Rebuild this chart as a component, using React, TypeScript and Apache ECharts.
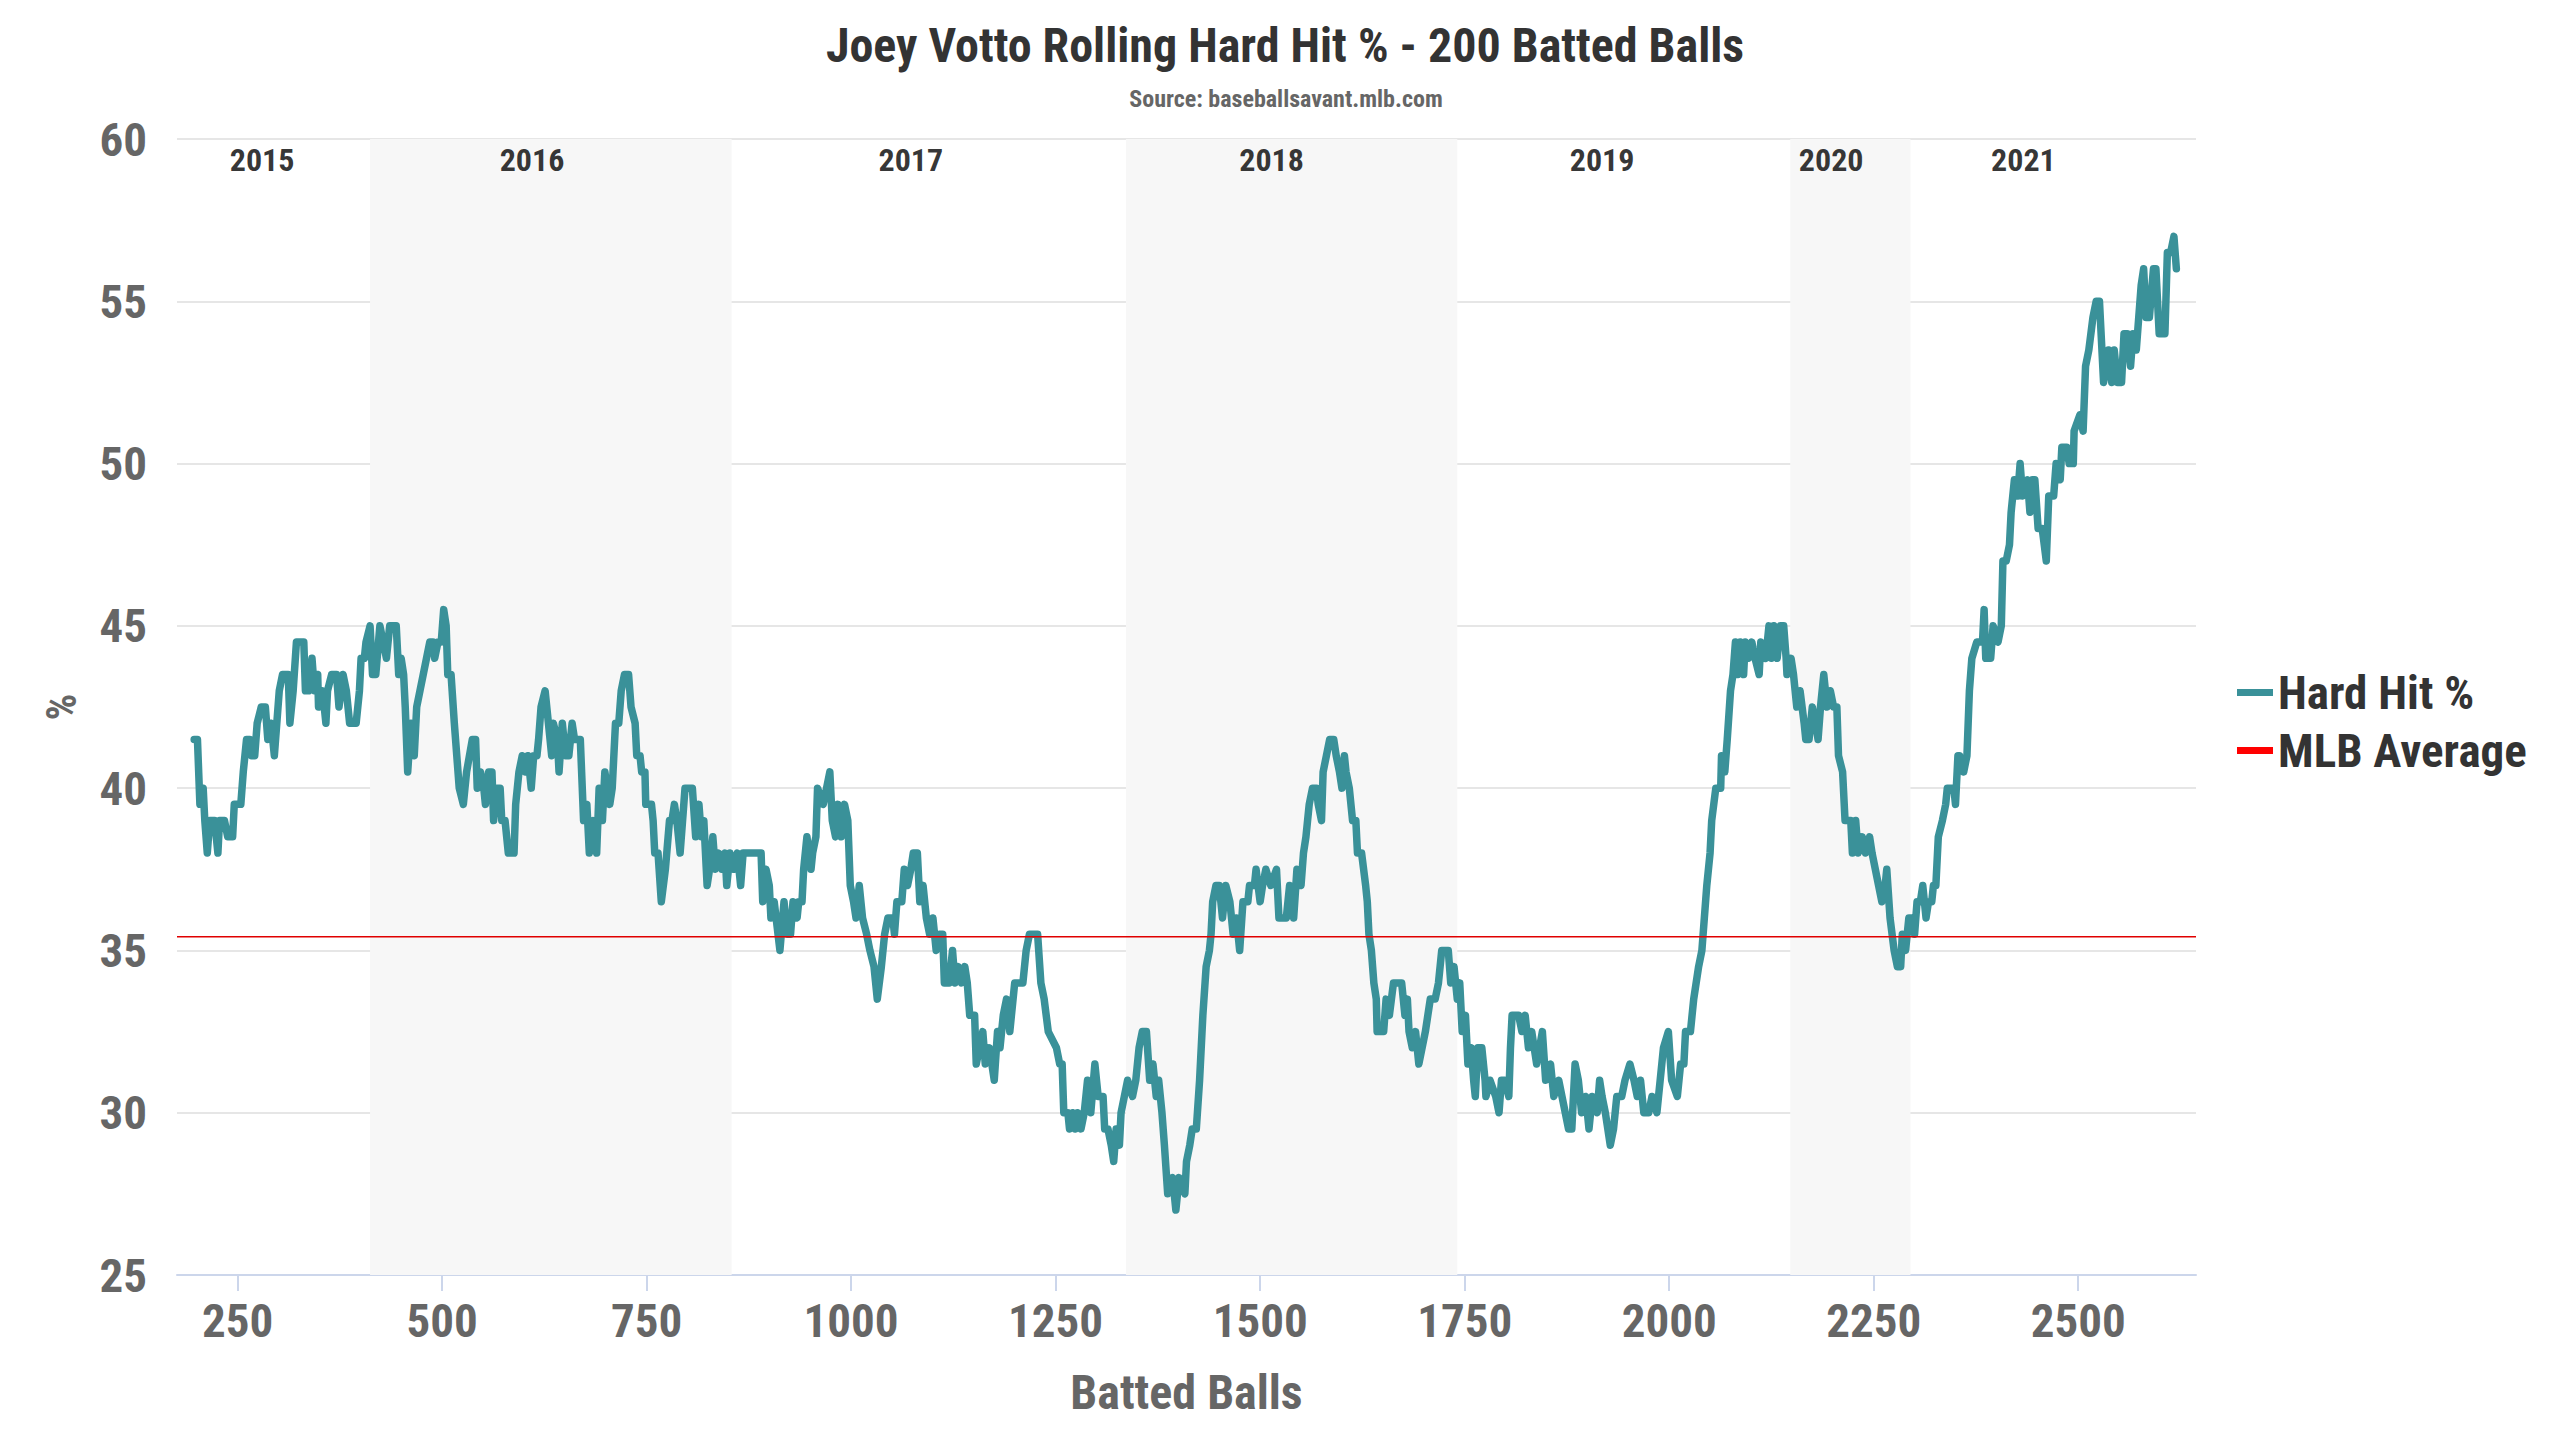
import React, { useEffect, useRef } from "react";
import * as echarts from "echarts";

const FONT =
  "'Roboto Condensed', 'Liberation Sans Narrow', 'DejaVu Sans Condensed', Roboto, sans-serif";

// [batted balls, rolling hard hit %]
const hardHitPoints: [number, number][] = [
  [197, 41.5], [201, 41.5], [204, 39.5], [208, 40], [210, 39], [213, 38], [216, 39], [222, 39],
  [226, 38], [228, 39], [234, 39], [238, 38.5], [244, 38.5], [246, 39.5], [254, 39.5], [257, 40.5],
  [261, 41.5], [265, 41.5], [267, 41], [271, 41], [274, 42], [279, 42.5], [284, 42.5], [287, 41.5],
  [291, 42], [295, 41], [298, 42], [301, 43], [305, 43.5], [312, 43.5], [314, 42], [318, 43],
  [322, 44.5], [331, 44.5], [333, 43], [337, 43], [341, 44], [344, 43], [348, 43.5], [349, 42.5],
  [354, 43], [358, 42], [360, 43], [365, 43.5], [371, 43.5], [374, 42.5], [379, 43.5], [383, 43],
  [387, 42], [395, 42], [399, 43], [401, 44], [405, 44], [407, 44.5], [412, 45], [415, 43.5],
  [419, 43.5], [424, 45], [428, 44.5], [432, 44], [436, 45], [444, 45], [447, 43.5], [450, 44],
  [453, 43.5], [455, 42.5], [458, 40.5], [462, 42], [466, 41], [469, 42.5], [473, 43], [477, 43.5],
  [481, 44], [485, 44.5], [489, 44.5], [491, 44], [495, 44.5], [499, 44.5], [502, 45.5], [505, 45],
  [507, 43.5], [511, 43.5], [515, 42], [518, 41], [521, 40], [526, 39.5], [530, 40.5],
  [537, 41.5], [541, 41.5], [543, 40], [547, 40.5], [551, 40], [553, 39.5], [557, 40.5], [561, 40.5],
  [563, 39], [567, 40], [571, 40], [573, 39], [577, 39], [581, 38], [588, 38], [590, 39.5],
  [594, 40.5], [598, 41], [602, 40.5], [605, 41], [609, 40], [612, 41], [616, 41], [618, 41.5],
  [621, 42.5], [626, 43], [630, 42], [634, 41], [636, 42], [641, 41.5], [643, 40.5], [647, 42],
  [651, 41], [655, 41], [659, 42], [662, 41.5], [669, 41.5], [673, 39], [677, 39.5], [680, 38],
  [685, 39], [689, 38], [692, 40], [696, 39], [699, 40.5], [702, 40], [705, 39.5], [708, 40],
  [712, 42], [716, 42], [719, 43], [723, 43.5], [728, 43.5], [731, 42.5], [736, 42], [738, 41],
  [742, 41], [744, 40.5], [748, 40.5], [749, 39.5], [756, 39.5], [758, 39], [760, 38], [764, 38],
  [768, 36.5], [773, 37.5], [778, 39], [781, 39], [784, 39.5], [787, 39], [791, 38], [794, 39],
  [797, 40], [806, 40], [810, 38.5], [814, 39.5], [817, 38.5], [820, 39], [824, 37], [827, 37.5],
  [831, 38.5], [834, 37.5], [838, 38], [842, 37.5], [846, 38], [848, 37], [852, 38], [857, 37.5],
  [861, 38], [865, 37], [868, 38], [887, 38],
  [890, 38], [892, 36.5], [896, 37.5], [900, 37], [902, 36], [906, 36.5], [913, 35], [918, 36.5],
  [922, 35.5], [926, 35.5], [929, 36.5], [934, 36], [936, 36.5], [940, 36.5], [942, 37.5], [946, 38.5],
  [951, 37.5], [953, 38], [957, 38.5], [959, 40], [966, 39.5], [970, 40], [974, 40.5], [977, 39],
  [981, 38.5], [984, 39.5], [988, 38.5], [992, 39.5], [996, 39], [999, 37], [1003, 36.5], [1006, 36],
  [1010, 37], [1014, 36], [1019, 35.5], [1023, 35], [1028, 34.5], [1032, 33.5], [1037, 34.5], [1041, 35.5],
  [1045, 36], [1051, 36], [1053, 35.5], [1056, 36.5], [1062, 36.5], [1065, 37.5], [1069, 37], [1073, 37.5],
  [1076, 38], [1081, 38], [1084, 36.5], [1088, 37], [1092, 36], [1096, 35.5], [1100, 36], [1104, 35],
  [1108, 35.5], [1112, 35.5], [1114, 34], [1120, 34], [1124, 35], [1127, 34], [1131, 34.5], [1135, 34],
  [1139, 34.5], [1142, 34], [1145, 33], [1151, 33], [1153, 31.5], [1157, 32], [1161, 32.5], [1164, 31.5],
  [1169, 32], [1175, 31], [1179, 32.5], [1182, 32], [1186, 33], [1190, 33.5], [1194, 32.5], [1198, 33.5],
  [1200, 34], [1210, 34], [1214, 35], [1218, 35.5], [1228, 35.5], [1232, 34], [1236, 33.5], [1241, 32.5],
  [1251, 32], [1255, 31.5], [1258, 31.5], [1260, 30], [1265, 30], [1267, 29.5], [1271, 30], [1274, 29.5],
  [1277, 30], [1281, 29.5], [1285, 30], [1289, 31], [1293, 30], [1298, 31.5], [1302, 30.5], [1308, 30.5],
  [1310, 29.5], [1314, 29.5], [1318, 29], [1321, 28.5], [1324, 29.5], [1328, 29], [1330, 30], [1334, 30.5],
  [1338, 31], [1344, 30.5], [1348, 31], [1352, 32], [1356, 32.5], [1361, 32.5], [1365, 31], [1369, 31.5],
  [1373, 30.5], [1376, 31], [1380, 30], [1383, 29], [1387, 27.5], [1393, 28], [1397, 27], [1401, 28],
  [1408, 27.5], [1410, 28.5], [1414, 29], [1417, 29.5], [1422, 29.5], [1426, 31], [1430, 33], [1434, 34.5],
  [1438, 35], [1440, 35.5], [1442, 36.5], [1446, 37], [1450, 37], [1454, 36], [1458, 37], [1463, 36.5],
  [1467, 35.5], [1471, 36], [1475, 35], [1479, 36.5], [1485, 36.5], [1487, 37], [1493, 37], [1495, 37.5],
  [1500, 36.5], [1503, 37], [1507, 37.5], [1513, 37], [1520, 37.5], [1523, 36], [1532, 36], [1536, 37],
  [1541, 36], [1545, 37.5], [1550, 37], [1553, 38], [1556, 38.5], [1560, 39.5], [1564, 40], [1569, 40],
  [1571, 39.5], [1575, 39], [1577, 40.5], [1581, 41], [1585, 41.5], [1590, 41.5], [1593, 41], [1597, 40.5],
  [1600, 40], [1603, 41], [1605, 40.5], [1609, 40], [1613, 39], [1617, 39], [1619, 38],
  [1624, 38], [1629, 37], [1631, 36.5], [1633, 35.5], [1636, 35], [1639, 34], [1642, 33.5], [1643, 32.5],
  [1651, 32.5], [1654, 33.5], [1658, 33], [1663, 34], [1673, 34], [1677, 33], [1680, 33.5], [1682, 32.5],
  [1686, 32], [1690, 32.5], [1694, 31.5], [1698, 32], [1702, 32.5], [1708, 33.5], [1714, 33.5], [1718, 34],
  [1722, 35], [1730, 35], [1733, 34], [1737, 34.5], [1741, 33.5], [1744, 34], [1747, 32.5], [1751, 33],
  [1754, 31.5], [1758, 32], [1761, 31], [1763, 30.5], [1766, 32], [1771, 32], [1775, 31], [1776, 30.5],
  [1781, 31], [1788, 30.5], [1792, 30], [1795, 31], [1799, 31], [1804, 30.5], [1806, 32], [1808, 33],
  [1816, 33], [1820, 32.5], [1824, 33], [1828, 32], [1832, 32.5], [1838, 31.5], [1845, 32.5], [1849, 31],
  [1855, 31.5], [1859, 30.5], [1865, 31], [1869, 30.5], [1873, 30], [1877, 29.5], [1881, 29.5], [1885, 31.5],
  [1889, 31], [1893, 30], [1898, 30.5], [1902, 29.5], [1906, 30.5], [1912, 30], [1915, 31], [1918, 30.5],
  [1922, 30], [1928, 29], [1932, 29.5], [1936, 30.5], [1942, 30.5], [1946, 31], [1952, 31.5], [1957, 31],
  [1961, 30.5], [1965, 31], [1969, 30], [1975, 30], [1979, 30.5], [1985, 30], [1989, 31], [1993, 32],
  [1999, 32.5], [2003, 31], [2010, 30.5], [2014, 31.5], [2018, 31.5], [2020, 32.5], [2026, 32.5], [2030, 33.5],
  [2036, 34.5], [2040, 35], [2043, 36], [2046, 37], [2050, 38], [2052, 39], [2057, 40], [2063, 40],
  [2064, 41], [2068, 40.5], [2071, 41.5], [2075, 43], [2078, 43.5], [2081, 44.5], [2084, 43.5], [2087, 44.5],
  [2091, 43.5], [2093, 44.5], [2097, 44], [2101, 44.5], [2105, 44], [2110, 43.5], [2112, 44.5], [2118, 44],
  [2122, 45], [2125, 44], [2128, 45], [2132, 44], [2136, 45], [2140, 45], [2143, 44], [2144, 43.5],
  [2149, 44], [2152, 43.5], [2156, 42.5], [2160, 43], [2165, 42], [2167, 41.5], [2171, 41.5], [2175, 42.5],
  [2179, 42], [2182, 41.5], [2185, 42.5], [2189, 43.5], [2193, 42.5], [2197, 43], [2201, 42.5], [2205, 42.5],
  [2207, 41], [2212, 40.5], [2215, 39], [2222, 39], [2224, 38], [2228, 39], [2231, 38], [2236, 38.5],
  [2240, 38], [2245, 38.5], [2248, 38], [2252, 37.5], [2256, 37], [2260, 36.5], [2264, 37], [2266, 37.5],
  [2270, 36], [2275, 35], [2279, 34.5], [2283, 34.5], [2285, 35.5], [2289, 35], [2293, 36], [2297, 36],
  [2300, 35.5], [2303, 36.5], [2307, 36.5], [2310, 37], [2314, 36], [2317, 36.5], [2321, 36.5], [2323, 37],
  [2326, 37], [2329, 38.5], [2334, 39], [2338, 39.5], [2340, 40], [2348, 40], [2350, 39.5], [2353, 41],
  [2355, 41], [2360, 40.5], [2364, 41], [2367, 43], [2370, 44], [2376, 44.5], [2383, 44.5], [2385, 45.5],
  [2387, 44], [2393, 44], [2396, 45], [2402, 44.5], [2406, 45], [2408, 47], [2412, 47], [2416, 47.5],
  [2418, 48.5], [2422, 49.5], [2426, 49], [2429, 50], [2432, 49], [2438, 49.5], [2441, 48.5], [2444, 49.5],
  [2447, 49.5], [2451, 48], [2456, 48], [2461, 47], [2464, 49], [2470, 49], [2473, 50], [2478, 49.5],
  [2480, 50.5], [2486, 50.5], [2489, 50], [2494, 50], [2495, 51], [2502, 51.5], [2506, 51], [2509, 53],
  [2513, 53.5], [2518, 54.5], [2522, 55], [2526, 55], [2531, 52.5], [2537, 53.5], [2541, 52.5], [2544, 53.5],
  [2548, 52.5], [2553, 52.5], [2556, 54], [2560, 54], [2564, 53], [2567, 54], [2571, 53.5], [2577, 55.5],
  [2580, 56], [2583, 54.5], [2587, 54.5], [2592, 56], [2595, 56], [2599, 54], [2606, 54], [2609, 56.5],
  [2613, 56.5], [2617, 57], [2620, 56],
];

const mlbAverage = 35.42;

const xTicks = [250, 500, 750, 1000, 1250, 1500, 1750, 2000, 2250, 2500];
const xMin = 176;
const xMax = 2644;

// shaded seasons (start, end in batted balls)
const shadedSeasons: [number, number][] = [
  [412, 854],
  [1336, 1741],
  [2148, 2295],
];

const seasonNames = ["2015", "2016", "2017", "2018", "2019", "2020", "2021"];
const seasonLabelX = [280, 610, 1073, 1514, 1918, 2198, 2433];
const seasonLabelY = 59.34;

const App: React.FC = () => {
  const chartRef = useRef<HTMLDivElement>(null);

  useEffect(() => {
    document.body.style.margin = "0";
    if (!chartRef.current) return;
    const chart = echarts.init(chartRef.current, undefined, { renderer: "svg" });

    const option: echarts.EChartsOption = {
      animation: false,
      backgroundColor: "#ffffff",
      textStyle: { fontFamily: FONT },
      title: [
        {
          text: "Joey Votto Rolling Hard Hit % - 200 Batted Balls",
          left: 1280,
          textAlign: "center",
          top: 16,
          textStyle: { fontFamily: FONT, fontSize: 48, fontWeight: "bold", color: "#333333" },
        },
        {
          text: "Source: baseballsavant.mlb.com",
          left: 1281,
          textAlign: "center",
          top: 82,
          textStyle: { fontFamily: FONT, fontSize: 24, fontWeight: "bold", color: "#666666" },
        },
      ],
      legend: {
        orient: "vertical",
        left: 2237,
        top: 669,
        padding: 0,
        itemWidth: 36,
        itemHeight: 7,
        itemGap: 11,
        icon: "rect",
        data: ["Hard Hit %", "MLB Average"],
        textStyle: { fontFamily: FONT, fontSize: 47, fontWeight: "bold", color: "#333333" },
      },
      grid: { left: 177, right: 364, top: 139, bottom: 165 },
      xAxis: {
        type: "value",
        min: xMin,
        max: xMax,
        name: "Batted Balls",
        nameLocation: "middle",
        nameGap: 93,
        nameTextStyle: { fontFamily: FONT, fontSize: 48, fontWeight: "bold", color: "#666666" },
        axisLine: { show: true, lineStyle: { color: "#ccd6eb", width: 2 } },
        axisTick: {
          show: true,
          length: 16,
          customValues: xTicks,
          lineStyle: { color: "#ccd6eb", width: 2 },
        },
        axisLabel: {
          customValues: xTicks,
          margin: 22,
          fontFamily: FONT,
          fontSize: 47,
          fontWeight: "bold",
          color: "#666666",
          formatter: (v: number) => String(v),
        },
        splitLine: { show: false },
      },
      yAxis: {
        type: "value",
        min: 25,
        max: 60,
        interval: 5,
        name: "%",
        nameLocation: "middle",
        nameGap: 95,
        nameTextStyle: { fontFamily: FONT, fontSize: 42, fontWeight: "bold", color: "#666666" },
        axisLine: { show: false },
        axisTick: { show: false },
        axisLabel: {
          margin: 30,
          fontFamily: FONT,
          fontSize: 47,
          fontWeight: "bold",
          color: "#666666",
        },
        splitLine: { show: true, lineStyle: { color: "#e6e6e6", width: 2 } },
      },
      series: [
        {
          name: "seasons",
          type: "scatter",
          z: 1,
          silent: true,
          symbolSize: 0,
          data: seasonNames.map((s, i) => ({ value: [seasonLabelX[i], seasonLabelY], name: s })),
          label: {
            show: true,
            position: "inside",
            formatter: (p: any) => p.name,
            fontFamily: FONT,
            fontSize: 32,
            fontWeight: "bold",
            color: "#000000",
          },
          markArea: {
            silent: true,
            itemStyle: { color: "#f7f7f7" },
            data: shadedSeasons.map(([a, b]) => [{ xAxis: a }, { xAxis: b }]) as any,
          },
        },
        {
          name: "Hard Hit %",
          type: "line",
          z: 3,
          data: hardHitPoints,
          showSymbol: false,
          symbol: "none",
          color: "#3a9199",
          lineStyle: { width: 7.5, color: "#3a9199", join: "round", cap: "round" },
        },
        {
          name: "MLB Average",
          type: "line",
          z: 4,
          data: [
            [xMin, mlbAverage],
            [xMax, mlbAverage],
          ],
          showSymbol: false,
          symbol: "none",
          color: "#ff0000",
          lineStyle: { width: 1.5, color: "#e00000" },
        },
      ],
    };

    chart.setOption(option);
    return () => {
      chart.dispose();
    };
  }, []);

  return <div ref={chartRef} style={{ width: "2560px", height: "1440px" }} />;
};

export default App;
